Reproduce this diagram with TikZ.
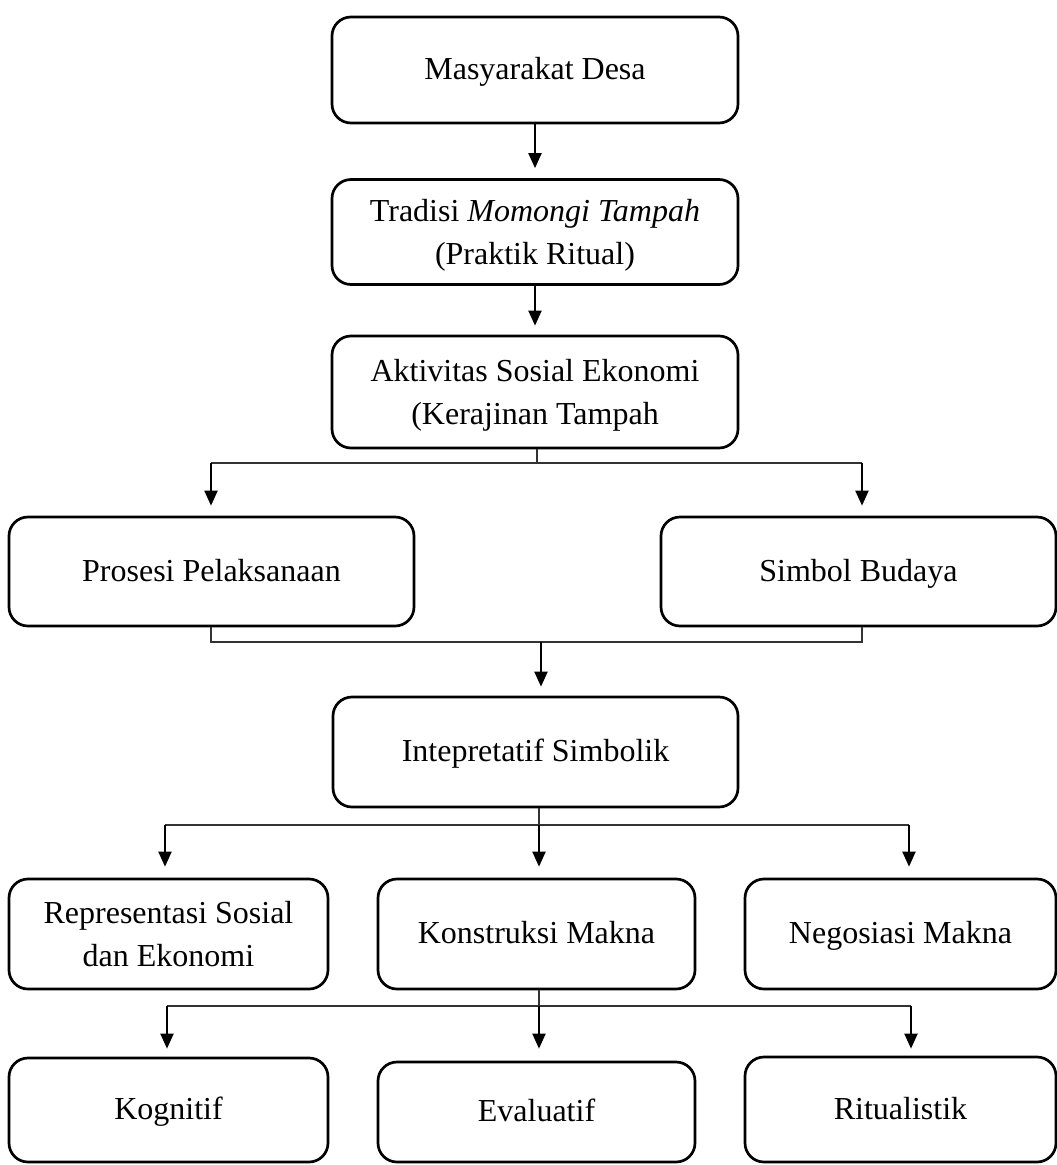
\documentclass[tikz,border=0pt]{standalone}
\usepackage{fontspec}
\setmainfont{Liberation Serif}
\usetikzlibrary{arrows.meta}
\begin{document}
\begin{tikzpicture}[x=1pt,y=-1pt,
  box/.style={draw, line width=2.7pt, rounded corners=19pt, inner sep=0pt, align=center,
    font=\fontsize{32}{43}\selectfont},
  one/.style={text height=21pt, text depth=2pt},
  two/.style={text depth=0pt},
  bus/.style={line width=1.4pt, draw=black!80},
  arr/.style={line width=2pt, -{Triangle[length=15pt,width=13pt]}},
]
\useasboundingbox (0,0) rectangle (1057,1165);
% boxes
\node[box, one, minimum width=406pt, minimum height=106pt] (m) at (535,70) {Masyarakat Desa};
\node[box, two, minimum width=406pt, minimum height=105pt] (t) at (535,232) {Tradisi \textit{Momongi Tampah}\\(Praktik Ritual)};
\node[box, two, minimum width=406pt, minimum height=112pt] (a) at (535,392) {Aktivitas Sosial Ekonomi\\(Kerajinan Tampah};
\node[box, one, minimum width=405pt, minimum height=109pt] (p) at (211.5,571.5) {Prosesi Pelaksanaan};
\node[box, one, minimum width=395pt, minimum height=109pt] (s) at (858.5,571.5) {Simbol Budaya};
\node[box, one, minimum width=405pt, minimum height=110pt] (i) at (535.5,752) {Intepretatif Simbolik};
\node[box, two, minimum width=319pt, minimum height=110pt] (r) at (168.5,934) {Representasi Sosial\\dan Ekonomi};
\node[box, one, minimum width=317pt, minimum height=110pt] (k) at (536.5,934) {Konstruksi Makna};
\node[box, one, minimum width=311pt, minimum height=110pt] (n) at (900.5,934) {Negosiasi Makna};
\node[box, one, minimum width=319pt, minimum height=104pt] (kg) at (168.5,1110) {Kognitif};
\node[box, one, minimum width=317pt, minimum height=100pt] (ev) at (536.5,1112) {Evaluatif};
\node[box, one, minimum width=311pt, minimum height=105pt] (ri) at (900.5,1109.5) {Ritualistik};
% bus coordinates
\coordinate (b1) at (537,463);
\coordinate (b1l) at (211,463);
\coordinate (b1r) at (862,463);
\coordinate (b2) at (541,642);
\coordinate (b2l) at (211,642);
\coordinate (b2r) at (862,642);
\coordinate (b3) at (539,825);
\coordinate (b3l) at (165,825);
\coordinate (b3r) at (909,825);
\coordinate (b4) at (539,1006);
\coordinate (b4l) at (167,1006);
\coordinate (b4r) at (911,1006);
% connectors
\draw[arr, shorten >=10pt] (m.south) -- (t.north);
\draw[arr, shorten >=9pt] (t.south) -- (a.north);
\draw[bus] (a.south -| b1) -- (b1);
\draw[bus] (b1l) -- (b1r);
\draw[arr, shorten >=10pt] (b1l) -- (b1l |- p.north);
\draw[arr, shorten >=10pt] (b1r) -- (b1r |- s.north);
\draw[bus] (b2l |- p.south) -- (b2l) -- (b2r) -- (b2r |- s.south);
\draw[arr, shorten >=9pt] (b2) -- (b2 |- i.north);
\draw[bus] (i.south -| b3) -- (b3);
\draw[bus] (b3l) -- (b3r);
\draw[arr, shorten >=11pt] (b3l) -- (b3l |- r.north);
\draw[arr, shorten >=11pt] (b3) -- (b3 |- k.north);
\draw[arr, shorten >=11pt] (b3r) -- (b3r |- n.north);
\draw[bus] (k.south -| b4) -- (b4);
\draw[bus] (b4l) -- (b4r);
\draw[arr, shorten >=8pt] (b4l) -- (b4l |- kg.north);
\draw[arr, shorten >=12pt] (b4) -- (b4 |- ev.north);
\draw[arr, shorten >=7pt] (b4r) -- (b4r |- ri.north);
\end{tikzpicture}
\end{document}
